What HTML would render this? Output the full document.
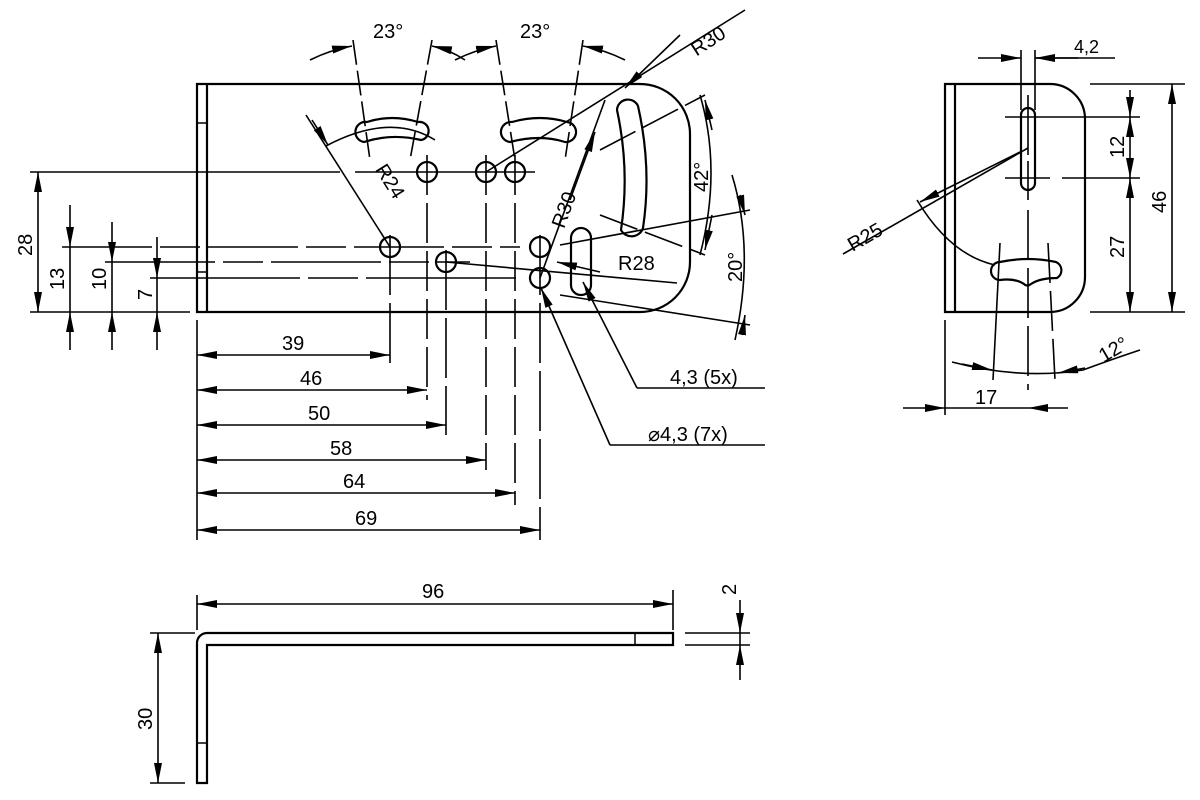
<!DOCTYPE html>
<html><head><meta charset="utf-8"><style>
html,body{margin:0;padding:0;background:#fff}
svg{display:block}
text{font-family:"Liberation Sans",sans-serif;font-size:20px;fill:#000}
</style></head><body>
<svg width="1200" height="800" viewBox="0 0 1200 800" xmlns="http://www.w3.org/2000/svg">
<defs>
<marker id="a" viewBox="0 0 20 8" refX="20" refY="4" markerWidth="20" markerHeight="8" markerUnits="userSpaceOnUse" orient="auto-start-reverse"><path d="M0,0L20,4L0,8z" fill="#000"/></marker>
</defs>
<g fill="none" stroke="#000" stroke-width="2.2">
<path d="M197,84H640A50,50 0 0 1 690,134V262A50,50 0 0 1 640,312H197Z"/>
<line x1="207" y1="84" x2="207" y2="312"/>
<line x1="197" y1="123" x2="207" y2="123" stroke-width="1.5"/>
<line x1="197" y1="272" x2="207" y2="272" stroke-width="1.5"/>
<circle cx="427" cy="172" r="10"/><circle cx="486" cy="172" r="10"/><circle cx="515" cy="172" r="10"/>
<circle cx="390" cy="247" r="10"/><circle cx="540" cy="247" r="10"/>
<circle cx="446" cy="262" r="10"/><circle cx="540" cy="278" r="10"/>
<path d="M367,122Q392,114 418,122A9,9 0 0 1 421,140Q392,133 364,142A10,10 0 0 1 367,122Z"/>
<path d="M512,122Q540,114 567,122A10,10 0 0 1 565,142Q540,134 510,142A10,10 0 0 1 512,122Z"/>
<path d="M617,110A11,11 0 0 1 638,106Q652,168 643,228A12,12 0 0 1 621,230Q630,170 617,110Z"/>
<path d="M571,238A10,10 0 0 1 591,238V285A10,10 0 0 1 571,285Z"/>
<path d="M945,84H1050A35,35 0 0 1 1085,119V277A35,35 0 0 1 1050,312H945Z"/>
<line x1="955" y1="84" x2="955" y2="312"/>
<path d="M1021,115A7,7 0 0 1 1035,115V183A7,7 0 0 1 1021,183Z"/>
<path d="M1000,262Q1028,256 1056,262A9,9 0 0 1 1057,278Q1040,278 1031,284Q1027,287 1024,284Q1015,278 1000,280A9,9 0 0 1 1000,262Z"/>
<path d="M197,783V643A10,10 0 0 1 207,633H673V645H207V783Z"/>
<line x1="635" y1="633" x2="635" y2="645" stroke-width="1.5"/>
<line x1="197" y1="743" x2="207" y2="743" stroke-width="1.5"/>
</g>
<g fill="none" stroke="#000" stroke-width="1.6">
<line x1="30" y1="172" x2="340" y2="172"/><line x1="355" y1="172" x2="535" y2="172"/>
<line x1="62" y1="247" x2="520" y2="247" stroke-dasharray="90,8,40,8"/>
<line x1="105" y1="262" x2="470" y2="262" stroke-dasharray="110,8,40,8"/>
<line x1="150" y1="278" x2="520" y2="278" stroke-dasharray="150,8,50,8"/>
<line x1="30" y1="312" x2="190" y2="312"/>
<line x1="427" y1="155" x2="427" y2="400" stroke-dasharray="40,8"/>
<line x1="486" y1="155" x2="486" y2="470" stroke-dasharray="40,8"/>
<line x1="515" y1="155" x2="515" y2="505" stroke-dasharray="40,8"/>
<line x1="390" y1="235" x2="390" y2="365" stroke-dasharray="60,8"/>
<line x1="446" y1="250" x2="446" y2="435" stroke-dasharray="60,8"/>
<line x1="540" y1="235" x2="540" y2="540" stroke-dasharray="60,8"/>
<line x1="197" y1="320" x2="197" y2="540"/>
<line x1="197" y1="595" x2="197" y2="630"/>
<line x1="673" y1="590" x2="673" y2="630"/>
<line x1="38" y1="172" x2="38" y2="312" marker-start="url(#a)" marker-end="url(#a)"/>
<line x1="70" y1="205" x2="70" y2="247" marker-end="url(#a)"/><line x1="70" y1="247" x2="70" y2="312"/><line x1="70" y1="350" x2="70" y2="312" marker-end="url(#a)"/>
<line x1="112" y1="222" x2="112" y2="262" marker-end="url(#a)"/><line x1="112" y1="262" x2="112" y2="312"/><line x1="112" y1="350" x2="112" y2="312" marker-end="url(#a)"/>
<line x1="157" y1="237" x2="157" y2="278" marker-end="url(#a)"/><line x1="157" y1="278" x2="157" y2="312"/><line x1="157" y1="350" x2="157" y2="312" marker-end="url(#a)"/>
<line x1="197" y1="355" x2="390" y2="355" marker-start="url(#a)" marker-end="url(#a)"/>
<line x1="197" y1="390" x2="427" y2="390" marker-start="url(#a)" marker-end="url(#a)"/>
<line x1="197" y1="425" x2="446" y2="425" marker-start="url(#a)" marker-end="url(#a)"/>
<line x1="197" y1="460" x2="486" y2="460" marker-start="url(#a)" marker-end="url(#a)"/>
<line x1="197" y1="493" x2="515" y2="493" marker-start="url(#a)" marker-end="url(#a)"/>
<line x1="197" y1="530" x2="540" y2="530" marker-start="url(#a)" marker-end="url(#a)"/>
<polyline points="637,388 765,388"/>
<line x1="637" y1="388" x2="583" y2="282" marker-end="url(#a)"/>
<polyline points="610,445 765,445"/>
<line x1="610" y1="445" x2="541" y2="288" marker-end="url(#a)"/>
<line x1="306" y1="115" x2="390" y2="247"/>
<line x1="312" y1="120" x2="328" y2="145" marker-end="url(#a)"/>
<path d="M326,146Q390,112 435,140"/>
<line x1="745" y1="10" x2="486" y2="172"/>
<line x1="680" y1="35" x2="625" y2="88" marker-end="url(#a)"/>
<line x1="605" y1="100" x2="540" y2="278"/>
<line x1="570" y1="200" x2="595" y2="132" marker-end="url(#a)"/>
<line x1="600" y1="272" x2="557" y2="262" marker-end="url(#a)"/>
<line x1="446" y1="262" x2="677" y2="283"/>
<line x1="353" y1="40" x2="370" y2="160" stroke-dasharray="25,6"/>
<line x1="432" y1="40" x2="410" y2="160" stroke-dasharray="25,6"/>
<line x1="496" y1="40" x2="515" y2="160" stroke-dasharray="25,6"/>
<line x1="583" y1="40" x2="565" y2="160" stroke-dasharray="25,6"/>
<path d="M310,60Q330,50 352,46" marker-end="url(#a)"/>
<path d="M465,60Q450,50 432,46" marker-end="url(#a)"/>
<path d="M455,60Q475,50 496,46" marker-end="url(#a)"/>
<path d="M625,60Q605,50 583,46" marker-end="url(#a)"/>
<line x1="600" y1="150" x2="705" y2="95" stroke-dasharray="40,8"/>
<line x1="600" y1="215" x2="705" y2="255" stroke-dasharray="40,8"/>
<line x1="560" y1="245" x2="750" y2="210"/>
<line x1="560" y1="295" x2="750" y2="325"/>
<path d="M700,95Q722,170 700,255"/>
<line x1="712" y1="130" x2="705" y2="100" marker-end="url(#a)"/>
<line x1="712" y1="215" x2="705" y2="250" marker-end="url(#a)"/>
<path d="M732,175Q755,250 735,340"/>
<line x1="740" y1="195" x2="745" y2="215" marker-end="url(#a)"/>
<line x1="742" y1="335" x2="745" y2="315" marker-end="url(#a)"/>
<line x1="197" y1="604" x2="673" y2="604" marker-start="url(#a)" marker-end="url(#a)"/>
<line x1="150" y1="633" x2="195" y2="633"/><line x1="150" y1="783" x2="185" y2="783"/>
<line x1="158" y1="633" x2="158" y2="783" marker-start="url(#a)" marker-end="url(#a)"/>
<line x1="685" y1="633" x2="750" y2="633"/><line x1="685" y1="645" x2="750" y2="645"/>
<line x1="740" y1="600" x2="740" y2="633" marker-end="url(#a)"/><line x1="740" y1="633" x2="740" y2="645"/><line x1="740" y1="680" x2="740" y2="645" marker-end="url(#a)"/>
<line x1="1028" y1="95" x2="1028" y2="200" stroke-dasharray="60,6"/>
<line x1="1028" y1="210" x2="1028" y2="390" stroke-dasharray="50,8"/>
<line x1="1021" y1="50" x2="1021" y2="110"/><line x1="1035" y1="50" x2="1035" y2="110"/>
<line x1="978" y1="58" x2="1021" y2="58" marker-end="url(#a)"/><line x1="1078" y1="58" x2="1035" y2="58" marker-end="url(#a)"/>
<line x1="1035" y1="58" x2="1115" y2="58"/>
<line x1="1005" y1="117" x2="1140" y2="117"/>
<line x1="1005" y1="178" x2="1050" y2="178"/><line x1="1062" y1="178" x2="1140" y2="178"/>
<line x1="1090" y1="84" x2="1185" y2="84"/><line x1="1090" y1="312" x2="1185" y2="312"/>
<line x1="1130" y1="90" x2="1130" y2="117" marker-end="url(#a)"/><line x1="1130" y1="117" x2="1130" y2="178" marker-start="url(#a)" marker-end="url(#a)"/>
<line x1="1130" y1="178" x2="1130" y2="312" marker-start="url(#a)" marker-end="url(#a)"/>
<line x1="1172" y1="84" x2="1172" y2="312" marker-start="url(#a)" marker-end="url(#a)"/>
<line x1="843" y1="254" x2="1028" y2="148"/>
<line x1="1020" y1="152" x2="920" y2="202" marker-end="url(#a)"/>
<path d="M917,200Q950,255 995,265"/>
<line x1="1000" y1="243" x2="993" y2="380"/><line x1="1048" y1="243" x2="1055" y2="380" stroke-dasharray="40,8"/>
<path d="M952,362Q1020,380 1083,370Q1110,360 1140,350"/>
<line x1="962" y1="364" x2="992" y2="370" marker-end="url(#a)"/>
<line x1="1085" y1="368" x2="1058" y2="373" marker-end="url(#a)"/>
<line x1="945" y1="320" x2="945" y2="415"/>
<line x1="903" y1="408" x2="945" y2="408" marker-end="url(#a)"/>
<line x1="1068" y1="408" x2="1028" y2="408" marker-end="url(#a)"/>
<line x1="945" y1="408" x2="1028" y2="408"/>
</g>
<text x="373" y="38">23°</text><text x="520" y="38">23°</text>
<text x="688" y="52" transform="rotate(-33 700 40)">R30</text>
<text x="355" y="175" transform="rotate(58 370 190)">R24</text>
<text x="540" y="225" transform="rotate(-70 555 210)">R30</text>
<text x="618" y="270">R28</text>
<text x="0" y="0" transform="translate(708,192) rotate(-90)">42°</text>
<text x="0" y="0" transform="translate(742,282) rotate(-90)">20°</text>
<text x="0" y="0" transform="translate(32,256) rotate(-90)">28</text>
<text x="0" y="0" transform="translate(64,290) rotate(-90)">13</text>
<text x="0" y="0" transform="translate(106,290) rotate(-90)">10</text>
<text x="0" y="0" transform="translate(152,300) rotate(-90)">7</text>
<text x="282" y="350">39</text><text x="300" y="385">46</text><text x="308" y="420">50</text>
<text x="330" y="455">58</text><text x="343" y="488">64</text><text x="355" y="525">69</text>
<text x="670" y="384">4,3 (5x)</text><text x="648" y="441">⌀4,3 (7x)</text>
<text x="422" y="598">96</text>
<text x="0" y="0" transform="translate(152,730) rotate(-90)">30</text>
<text x="0" y="0" transform="translate(736,595) rotate(-90)">2</text>
<text x="1074" y="53" style="font-size:18px">4,2</text>
<text x="0" y="0" transform="translate(1124,158) rotate(-90)">12</text>
<text x="0" y="0" transform="translate(1124,258) rotate(-90)">27</text>
<text x="0" y="0" transform="translate(1166,213) rotate(-90)">46</text>
<text x="845" y="246" transform="rotate(-30 860 235)">R25</text>
<text x="1098" y="358" transform="rotate(-30 1110 350)">12°</text>
<text x="975" y="404">17</text>
</svg>
</body></html>
